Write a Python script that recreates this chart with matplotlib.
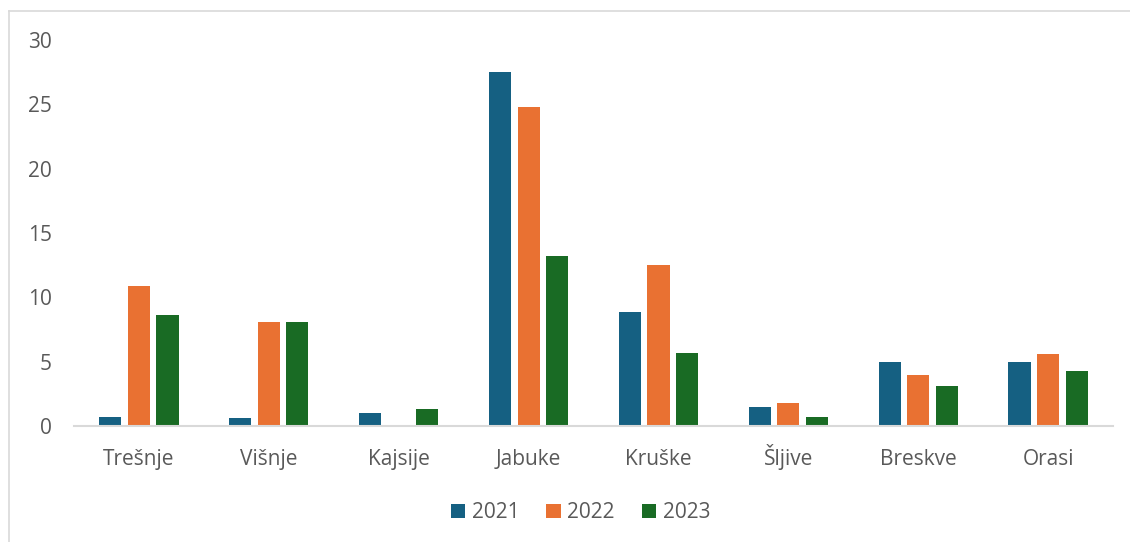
import numpy as np
import matplotlib.pyplot as plt
from matplotlib.lines import Line2D

plt.rcParams['font.family'] = ['Open Sans', 'DejaVu Sans']

categories = ['Trešnje', 'Višnje', 'Kajsije', 'Jabuke', 'Kruške', 'Šljive', 'Breskve', 'Orasi']
years = ['2021', '2022', '2023']
vals_2021 = [0.7, 0.6, 1.0, 27.5, 8.9, 1.5, 5.0, 5.0]
vals_2022 = [10.9, 8.1, 0.0, 24.8, 12.5, 1.8, 4.0, 5.6]
vals_2023 = [8.6, 8.1, 1.3, 13.2, 5.7, 0.7, 3.1, 4.3]
colors = ['#156082', '#E97132', '#196B24']

text_color = '#595959'

fig = plt.figure(figsize=(11.3, 5.42), dpi=100)
ax = fig.add_axes([0.0655, 0.214, 0.9195, 0.712])

x = np.arange(len(categories))
width = 0.17
step = 0.22
for i, (vals, year) in enumerate(zip([vals_2021, vals_2022, vals_2023], years)):
    ax.bar(x + (i - 1) * step, vals, width, color=colors[i], label=year)

ax.set_xlim(-0.5, len(categories) - 0.5)
ax.set_ylim(0, 30)
ax.set_yticks(range(0, 31, 5))
ax.set_xticks(x)
ax.set_xticklabels(categories, va='baseline')

for side in ['top', 'right', 'left']:
    ax.spines[side].set_visible(False)
ax.spines['bottom'].set_color('#d9d9d9')
ax.spines['bottom'].set_linewidth(1.5)

ax.tick_params(axis='both', length=0, labelsize=15, labelcolor=text_color)
ax.tick_params(axis='y', pad=16)
ax.tick_params(axis='x', pad=28)

ax.legend(loc='center', bbox_to_anchor=(0.4875, -0.225), ncol=3, frameon=False,
          fontsize=15, labelcolor=text_color, handlelength=0.7, handleheight=0.7,
          handletextpad=0.3, columnspacing=1.3)

# chart frame (top and left edges)
fig.add_artist(Line2D([9 / 1130, 1.0], [1 - 11 / 542, 1 - 11 / 542], color='#d9d9d9', lw=1.2))
fig.add_artist(Line2D([9 / 1130, 9 / 1130], [0.0, 1 - 11 / 542], color='#d9d9d9', lw=1.2))

fig.savefig('out.png', dpi=100, facecolor='white')
